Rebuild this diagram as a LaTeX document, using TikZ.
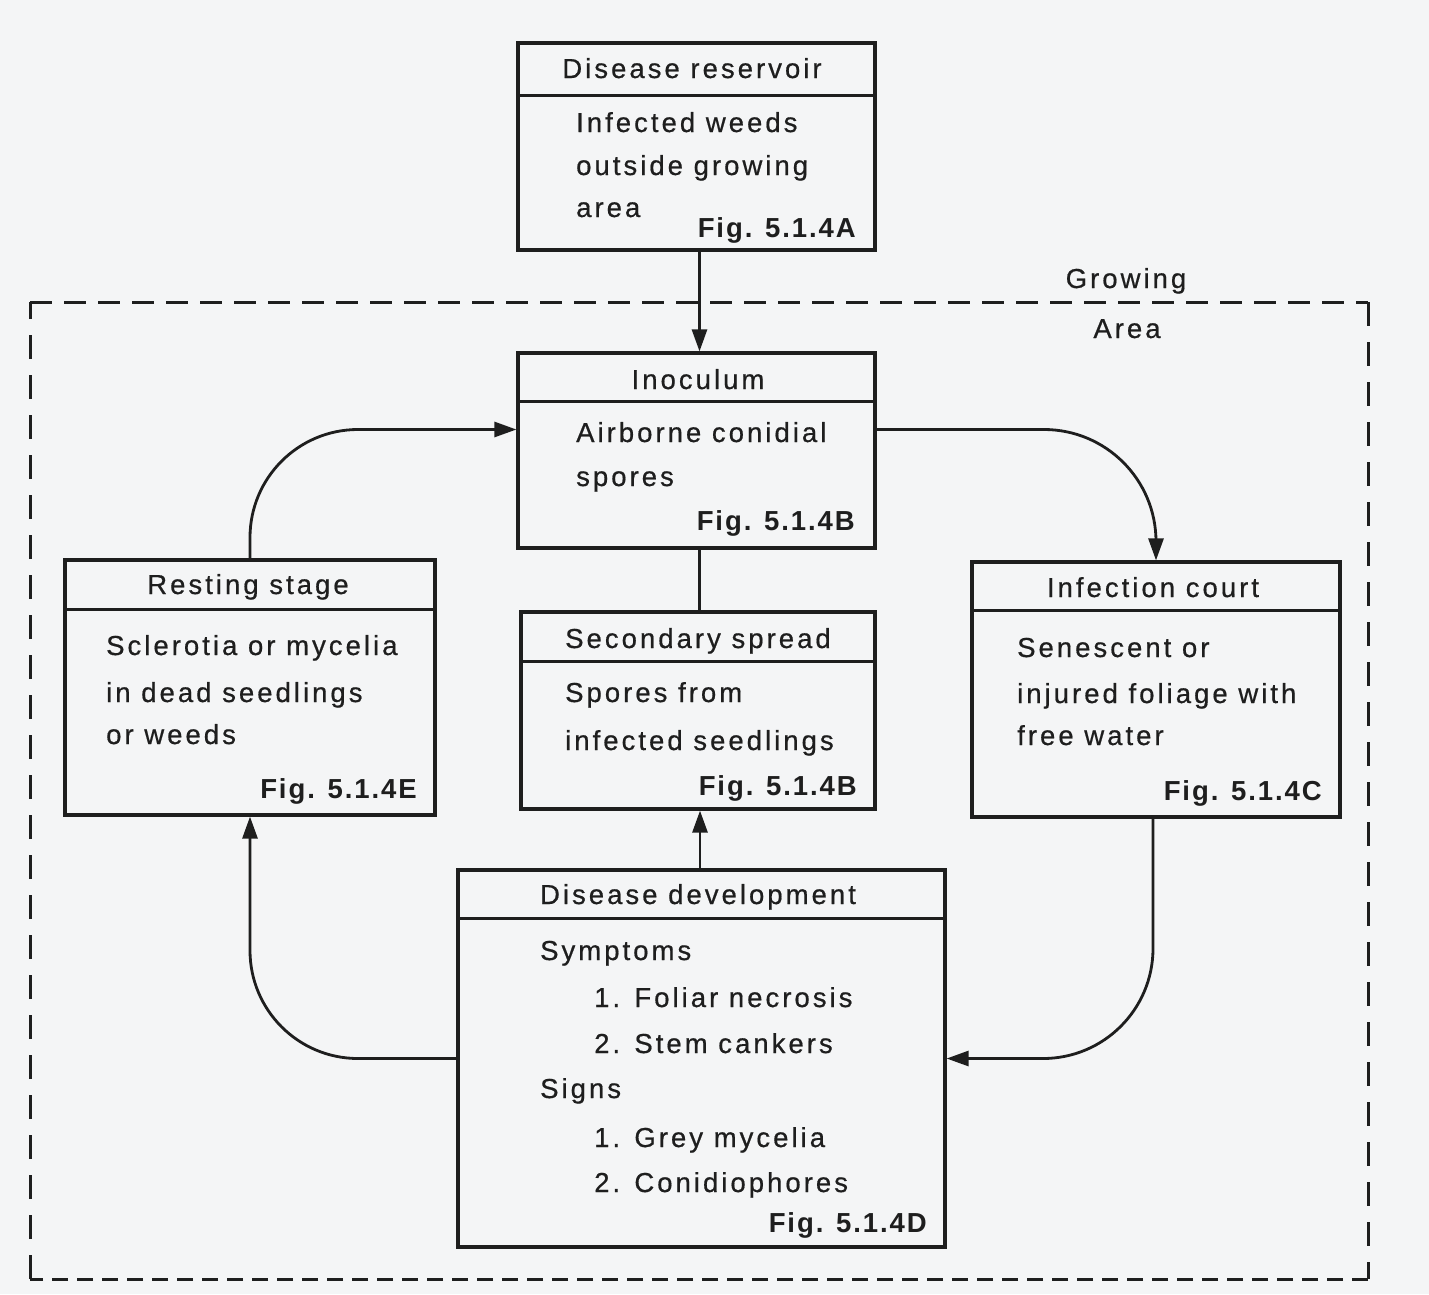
\documentclass[tikz,border=0pt]{standalone}
\usepackage{fontspec}
\usetikzlibrary{arrows.meta}
\newfontfamily\bodyf[LetterSpace=11,FakeBold=0.6]{Liberation Sans}
\newfontfamily\figf[LetterSpace=7]{Liberation Sans}
\definecolor{bg}{RGB}{244,245,246}
\definecolor{ink}{RGB}{30,30,30}
\begin{document}
\begin{tikzpicture}[x=1pt,y=-1pt,
  box/.style={draw=ink, line width=3.2pt, inner sep=0pt, rectangle},
  hdr/.style={anchor=base, inner sep=0pt, text=ink, font=\bodyf\fontsize{27.5}{30}\selectfont},
  txt/.style={anchor=base west, inner sep=0pt, text=ink, font=\bodyf\fontsize{27.5}{30}\selectfont},
  figl/.style={anchor=base east, inner sep=0pt, text=ink, font=\figf\bfseries\fontsize{27.5}{30}\selectfont},
  conn/.style={draw=ink, line width=2.8pt},
  arr/.style={conn, -{Triangle[length=22pt,width=15pt]}},
  areadash/.style={draw=ink, line width=3pt}
]
\useasboundingbox (0,0) rectangle (1429,1294);
\fill[bg] (0,0) rectangle (1429,1294);

% growing area (dashed)
\coordinate (gnw) at (30,302);
\coordinate (gne) at (1368,302);
\coordinate (gse) at (1368,1279);
\coordinate (gsw) at (30,1279);
\draw[areadash, dash pattern=on 22pt off 12pt] (gnw) -- (gne);
\draw[areadash, dash pattern=on 24pt off 16pt] (gne) -- (gse);
\draw[areadash, dash pattern=on 16pt off 9pt] (gse) -- (gsw);
\draw[areadash, dash pattern=on 24pt off 16pt] (gsw) -- (gnw);
\node[hdr] (grow) at (1126,288) {Growing};
\node[hdr] (areal) at (1127,338) {Area};

% boxes
\node[box, minimum width=357pt, minimum height=207pt] (A) at (696.5,146.5) {};
\node[box, minimum width=357pt, minimum height=195pt] (B) at (696.5,450.5) {};
\node[box, minimum width=354pt, minimum height=197pt] (S) at (698,710.5) {};
\node[box, minimum width=370pt, minimum height=255pt] (E) at (250,687.5) {};
\node[box, minimum width=368pt, minimum height=255pt] (C) at (1156,689.5) {};
\node[box, minimum width=487pt, minimum height=377pt] (D) at (701.5,1058.5) {};

% header dividers
\draw[box] ([yshift=-54pt]A.north west) -- ([yshift=-54pt]A.north east);
\draw[box] ([yshift=-50pt]B.north west) -- ([yshift=-50pt]B.north east);
\draw[box] ([yshift=-51pt]S.north west) -- ([yshift=-51pt]S.north east);
\draw[box] ([yshift=-51pt]E.north west) -- ([yshift=-51pt]E.north east);
\draw[box] ([yshift=-50pt]C.north west) -- ([yshift=-50pt]C.north east);
\draw[box] ([yshift=-50pt]D.north west) -- ([yshift=-50pt]D.north east);

% A
\node[hdr] (Ah) at (692,78) {Disease reservoir};
\node[txt] (A1) at (576,132) {Infected weeds};
\node[txt] (A2) at (576,175) {outside growing};
\node[txt] (A3) at (576,217) {area};
\node[figl] (Af) at (856,237) {Fig. 5.1.4A};
% B
\node[hdr] (Bh) at (698,389) {Inoculum};
\node[txt] (B1) at (576,442) {Airborne conidial};
\node[txt] (B2) at (576,486) {spores};
\node[figl] (Bf) at (855,530) {Fig. 5.1.4B};
% S
\node[hdr] (Sh) at (698,648) {Secondary spread};
\node[txt] (S1) at (565,702) {Spores from};
\node[txt] (S2) at (565,750) {infected seedlings};
\node[figl] (Sf) at (857,795) {Fig. 5.1.4B};
% E
\node[hdr] (Eh) at (248,594) {Resting stage};
\node[txt] (E1) at (106,655) {Sclerotia or mycelia};
\node[txt] (E2) at (106,702) {in dead seedlings};
\node[txt] (E3) at (106,744) {or weeds};
\node[figl] (Ef) at (417,798) {Fig. 5.1.4E};
% C
\node[hdr] (Ch) at (1153,597) {Infection court};
\node[txt] (C1) at (1017,657) {Senescent or};
\node[txt] (C2) at (1017,703) {injured foliage with};
\node[txt] (C3) at (1017,745) {free water};
\node[figl] (Cf) at (1322,800) {Fig. 5.1.4C};
% D
\node[hdr] (Dh) at (698,904) {Disease development};
\node[txt] (D1) at (540,960) {Symptoms};
\node[txt] (D2) at (594,1007) {1. Foliar necrosis};
\node[txt] (D3) at (594,1053) {2. Stem cankers};
\node[txt] (D4) at (540,1098) {Signs};
\node[txt] (D5) at (594,1147) {1. Grey mycelia};
\node[txt] (D6) at (594,1192) {2. Conidiophores};
\node[figl] (Df) at (927,1232) {Fig. 5.1.4D};

% connectors
\draw[arr] ([xshift=3pt]A.south) -- ([xshift=3pt]B.north);
\draw[conn] ([xshift=3pt]B.south) -- ([xshift=3pt]B.south |- S.north);
\draw[arr] ([xshift=-1.5pt]D.north) -- ([xshift=-1.5pt]D.north |- S.south);
\draw[arr, rounded corners=108pt] (E.north) |- ([yshift=21pt]B.west);
\draw[arr, rounded corners=112pt] ([yshift=21pt]B.east) -| (C.north);
\draw[arr, rounded corners=110pt] ([xshift=-3pt]C.south) |- (D.east);
\draw[arr, rounded corners=108pt] (D.west) -| (E.south);
\end{tikzpicture}
\end{document}
